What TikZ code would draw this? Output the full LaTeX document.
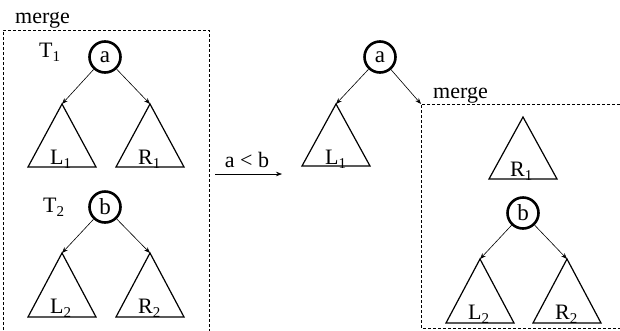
\documentclass[tikz,border=0pt]{standalone}
\usepackage{fontspec}
\setmainfont{Liberation Serif}
\usetikzlibrary{arrows.meta}
\newcommand{\lowsub}[1]{\raisebox{-4pt}{\fontsize{15}{16}\selectfont #1}}
\begin{document}
\begin{tikzpicture}[x=1pt,y=-1pt,
  lbl/.style={font=\fontsize{22}{24}\selectfont, inner sep=0pt, anchor=base west},
  keynode/.style={circle, draw, line width=2.6pt, minimum size=31pt, inner sep=0pt, font=\fontsize{23}{24}\selectfont},
  edge/.style={-{Stealth[length=6pt,width=4.5pt]}, line width=0.6pt},
  box/.style={line width=0.7pt, dash pattern=on 3pt off 2pt},
  tri/.pic={\draw[line width=1.2pt] (0,0) -- (-34,63) -- (34,63) -- cycle;}]
\useasboundingbox (0,0) rectangle (620,330);
% left box
\node[lbl] (mergeL) at (15,23) {merge};
\draw[box] (3,340) -- (3,30) -- (209,30) -- (209,340);
\node[lbl] (T1) at (39,57) {T\lowsub{1}};
\node[keynode] (a1) at (105,57) {a};
\coordinate (L1top) at (62,104);
\coordinate (R1top) at (150,104);
\pic at (L1top) {tri};
\pic at (R1top) {tri};
\node[lbl] (L1) at (50,164) {L\lowsub{1}};
\node[lbl] (R1) at (138,164) {R\lowsub{1}};
\draw[edge] (a1) -- (L1top);
\draw[edge] (a1) -- (R1top);
\node[lbl] (T2) at (43,212) {T\lowsub{2}};
\node[keynode] (b1) at (105,207) {b};
\coordinate (L2top) at (62,253);
\coordinate (R2top) at (150,253);
\pic[yscale=64/63] at (L2top) {tri};
\pic[yscale=64/63] at (R2top) {tri};
\node[lbl] (L2) at (50,313) {L\lowsub{2}};
\node[lbl] (R2) at (138,313) {R\lowsub{2}};
\draw[edge] (b1) -- (L2top);
\draw[edge] (b1) -- (R2top);
% middle arrow
\coordinate (arrS) at (215,174);
\coordinate (arrE) at (282,174);
\draw[edge] (arrS) -- (arrE);
\node[lbl, anchor=base] (cmp) at (247,167) {a < b};
% right side
\node[keynode] (a2) at (380,57) {a};
\coordinate (L1btop) at (336,104);
\coordinate (mtop) at (421,104);
\pic[yscale=62/63] at (L1btop) {tri};
\node[lbl] (L1b) at (325,164) {L\lowsub{1}};
\draw[edge] (a2) -- (L1btop);
\draw[edge] (a2) -- (mtop);
\node[lbl] (mergeR) at (433,98) {merge};
\draw[box] (620,104) -- (mtop) -- (421,328) -- (620,328);
\coordinate (R1btop) at (523,117);
\pic[yscale=62/63] at (R1btop) {tri};
\node[lbl] (R1b) at (510,176) {R\lowsub{1}};
\node[keynode] (b2) at (523,213) {b};
\coordinate (L2btop) at (480,259);
\coordinate (R2btop) at (567,259);
\pic[yscale=64/63] at (L2btop) {tri};
\pic[yscale=64/63] at (R2btop) {tri};
\node[lbl] (L2b) at (468,319) {L\lowsub{2}};
\node[lbl] (R2b) at (555,319) {R\lowsub{2}};
\draw[edge] (b2) -- (L2btop);
\draw[edge] (b2) -- (R2btop);
\end{tikzpicture}
\end{document}
